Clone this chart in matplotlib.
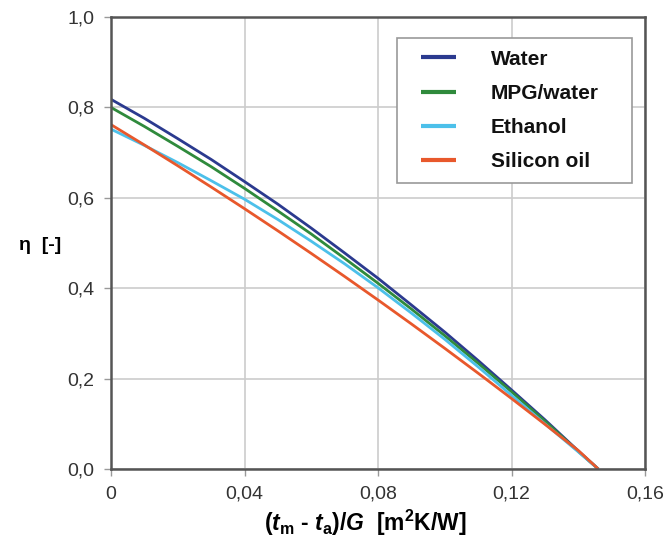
import numpy as np
import matplotlib
matplotlib.use("Agg")
import matplotlib.pyplot as plt
from matplotlib.lines import Line2D
from matplotlib.legend_handler import HandlerLine2D

plt.rcParams['font.family'] = ['Liberation Sans', 'DejaVu Sans']
plt.rcParams['mathtext.fontset'] = 'custom'
plt.rcParams['mathtext.rm'] = 'Liberation Sans:bold'
plt.rcParams['mathtext.bf'] = 'Liberation Sans:bold'
plt.rcParams['mathtext.it'] = 'Liberation Sans:italic:bold'
plt.rcParams['mathtext.default'] = 'bf'

# reduced temperature difference (t_m - t_a)/G
x = [0.0, 0.01, 0.02, 0.03, 0.04, 0.05, 0.06, 0.07, 0.08, 0.09, 0.10,
     0.11, 0.12, 0.13, 0.14, 0.146]

# collector efficiency for each heat transfer fluid
eta_water = [0.818, 0.776, 0.731, 0.685, 0.636, 0.586, 0.533, 0.478, 0.422,
             0.363, 0.303, 0.240, 0.175, 0.109, 0.040, 0.0]
eta_mpg = [0.800, 0.758, 0.714, 0.669, 0.621, 0.571, 0.520, 0.466, 0.411,
           0.354, 0.295, 0.234, 0.171, 0.106, 0.039, 0.0]
eta_ethanol = [0.752, 0.716, 0.678, 0.638, 0.597, 0.552, 0.504, 0.454, 0.401,
               0.345, 0.287, 0.226, 0.163, 0.100, 0.038, 0.0]
eta_silicon = [0.762, 0.717, 0.671, 0.624, 0.576, 0.527, 0.477, 0.426, 0.374,
               0.321, 0.267, 0.212, 0.156, 0.099, 0.041, 0.0]

names = ["Water", "MPG/water", "Ethanol", "Silicon oil"]
colors = ["#2b3a8f", "#2f8a3c", "#4cc0ea", "#e8582c"]

xticks = [0, 0.04, 0.08, 0.12, 0.16]
xticklabels = ["0", "0,04", "0,08", "0,12", "0,16"]
yticks = [0.0, 0.2, 0.4, 0.6, 0.8, 1.0]
yticklabels = ["0,0", "0,2", "0,4", "0,6", "0,8", "1,0"]

fig = plt.figure(figsize=(6.7, 5.6), dpi=100)
ax = fig.add_axes([0.1657, 0.1625, 0.797, 0.807])

for eta, name, c in zip([eta_water, eta_mpg, eta_ethanol, eta_silicon], names, colors):
    ax.plot(x, eta, color=c, lw=2.0, label=name, solid_capstyle='butt',
            solid_joinstyle='round')

ax.set_xlim(0, 0.16)
ax.set_ylim(0, 1.0)
ax.set_xticks(xticks)
ax.set_xticklabels(xticklabels)
ax.set_yticks(yticks)
ax.set_yticklabels(yticklabels)
ax.tick_params(labelsize=14, labelcolor="#333333", length=5, width=1,
               direction='out', pad=7, color="#999999")
ax.grid(True, color="#cccccc", lw=1.2)
ax.set_axisbelow(True)
for s in ax.spines.values():
    s.set_color("#555555")
    s.set_linewidth(1.8)

ax.set_xlabel(r"($\mathit{t}_{m}$ - $\mathit{t}_{a}$)/$\mathit{G}$  [m$^{2}$K/W]",
              fontsize=16.5, fontweight='bold')
ax.xaxis.set_label_coords(0.476, -0.085)
ax.set_ylabel("η  [-]", fontsize=14, fontweight='bold', rotation=0,
              va='center', ha='center')
ax.yaxis.set_label_coords(-0.133, 0.495)

# legend box stretched to a fixed width, handles indented from the frame
leg = ax.legend(loc='upper left', bbox_to_anchor=(0.5356, 0.9535, 0.4401, 0.0),
                mode='expand', fancybox=False, edgecolor="#999999", framealpha=1,
                borderpad=0.55, prop={'weight': 'bold', 'size': 15},
                handlelength=2.26, handletextpad=1.68, labelspacing=0.735,
                borderaxespad=0, handler_map={Line2D: HandlerLine2D(xpad=0.58)})
leg.get_frame().set_linewidth(1.2)
for t in leg.get_texts():
    t.set_color("#111111")
for h in leg.get_lines():
    h.set_linewidth(3.0)

fig.savefig("out.png", dpi=100)
